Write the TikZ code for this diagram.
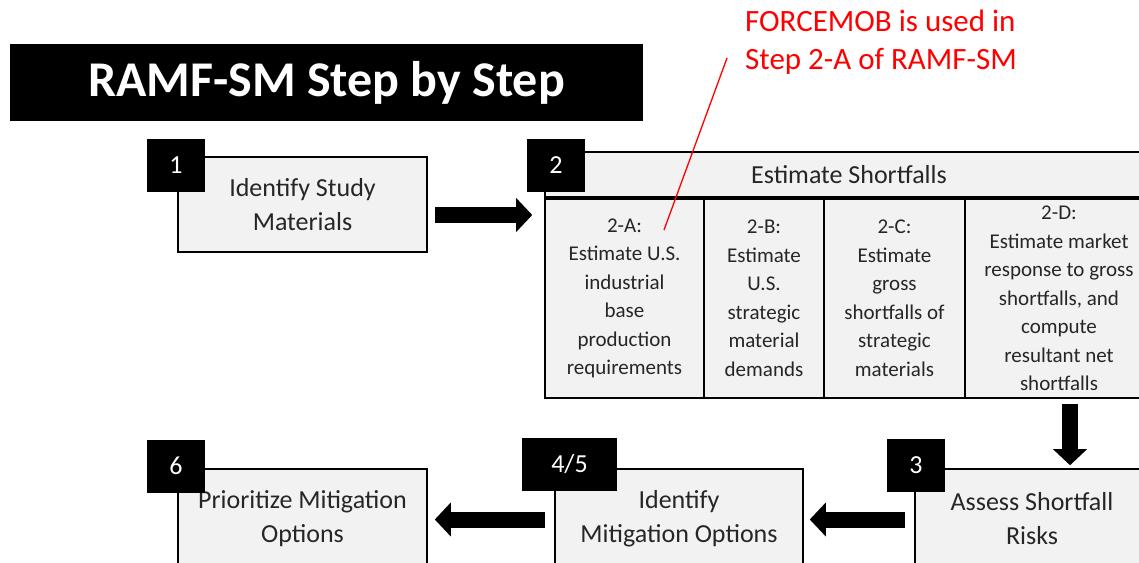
\documentclass[tikz,border=0pt]{standalone}
\usepackage{fontspec}
\setmainfont{Carlito}
\usetikzlibrary{arrows.meta,calc}

\definecolor{boxgray}{HTML}{F2F2F2}
\definecolor{txtgray}{HTML}{262626}

\tikzset{
  stepbox/.style={draw=black, line width=1.6pt, fill=boxgray, text=txtgray, inner sep=0pt, align=center, font=\fontsize{26}{34}\selectfont},
  subbox/.style={stepbox, minimum height=199pt, font=\fontsize{21}{28.5}\selectfont},
  numbox/.style={fill=black, text=white, inner sep=0pt, minimum height=53pt, font=\fontsize{26}{30}\selectfont},
  blockarrow/.style={line width=16pt, -{Triangle[length=16pt,width=34pt,line width=0pt]}},
  note/.style={text=red, align=left, anchor=west, inner sep=0pt, font=\fontsize{31}{37.5}\selectfont}
}

\begin{document}
\begin{tikzpicture}[x=1pt, y=-1pt]

% Page frame
\useasboundingbox (0,0) rectangle (1139,562);
\clip (0,0) rectangle (1139,562);

% Title bar
\node[fill=black, text=white, minimum width=633pt, minimum height=77pt, inner sep=0pt, font=\bfseries\fontsize{50}{60}\selectfont] (title) at (326.5,82.5) {RAMF-SM Step by Step};

% Steps
\node[stepbox, minimum width=249pt, minimum height=95pt] (step1) at (302.5,204.5) {Identify Study\\Materials};
\node[stepbox, minimum width=608pt, minimum height=45pt] (head2) at (849,174.5) {Estimate Shortfalls};
\node[subbox, minimum width=159pt] (subA) at (624.5,298.5) {2-A:\\Estimate U.S.\\industrial\\base\\production\\requirements};
\node[subbox, minimum width=120pt] (subB) at (764,298.5) {2-B:\\Estimate\\U.S.\\strategic\\material\\demands};
\node[subbox, minimum width=141pt] (subC) at (894.5,298.5) {2-C:\\Estimate\\gross\\shortfalls of\\strategic\\materials};
\node[subbox, minimum width=188pt] (subD) at (1059,298.5) {2-D:\\Estimate market\\response to gross\\shortfalls, and\\compute\\resultant net\\shortfalls};
\node[stepbox, minimum width=234pt, minimum height=99pt] (step3) at (1032,518.5) {Assess Shortfall\\Risks};
\node[stepbox, minimum width=248pt, minimum height=99pt] (step45) at (679,518.5) {Identify\\Mitigation Options};
\node[stepbox, minimum width=249pt, minimum height=99pt] (step6) at (302.5,518.5) {Prioritize Mitigation\\Options};

% Step numbers
\node[numbox, minimum width=58pt] (num1) at (176,165.5) {1};
\node[numbox, minimum width=58pt] (num2) at (556,165.5) {2};
\node[numbox, minimum width=58pt] (num3) at (916,465) {3};
\node[numbox, minimum width=95pt] (num45) at (569.5,464) {4/5};
\node[numbox, minimum width=58pt] (num6) at (176,466) {6};

% Flow
\draw[blockarrow] ($(step1.east)+(7,10.5)$) -- ($(subA.west)+(-12,-83.5)$);
\draw[blockarrow] ($(subD.south)+(11,5)$) -- ($(step3.north)+(38,-3)$);
\draw[blockarrow] ($(step3.west)+(-9,1)$) -- ($(step45.east)+(6,1)$);
\draw[blockarrow] ($(step45.west)+(-9,1)$) -- ($(step6.east)+(7,1)$);

% Callout
\node[note] (note) at (745,42) {FORCEMOB is used in\\Step 2-A of RAMF-SM};
\coordinate (pin) at ($(subA.center)+(39.5,-68.5)$);
\draw[red, line width=1.3pt] ($(note.west)+(-18,16)$) -- (pin);

\end{tikzpicture}
\end{document}
